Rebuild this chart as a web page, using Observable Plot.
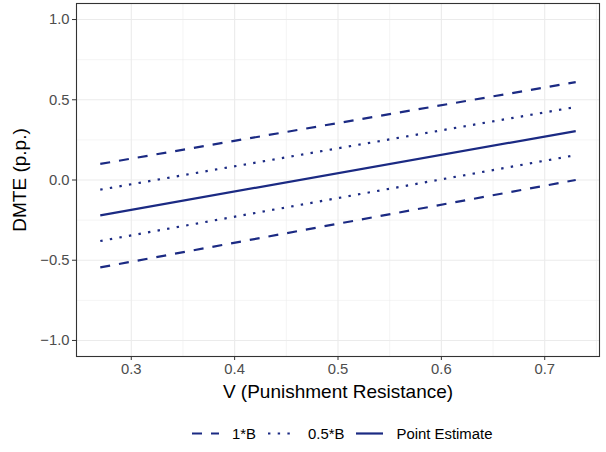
<!DOCTYPE html>
<html>
<head>
<meta charset="utf-8">
<script src="https://cdn.jsdelivr.net/npm/d3@7"></script>
<script src="https://cdn.jsdelivr.net/npm/@observablehq/plot@0.6"></script>
<style>
  html, body { margin: 0; padding: 0; background: #fff; }
  body { font-family: "Liberation Sans", Arial, Helvetica, sans-serif; }
  #wrap { position: relative; width: 606px; height: 452px; }
  #legend { position: absolute; left: 192px; top: 422px; display: flex; align-items: center; height: 24px; font-size: 14.9px; color: #000; }
  #legend svg { display: block; }
  #legend span { display: inline-block; }
</style>
</head>
<body>
<div id="wrap">
  <div id="chart"></div>
  <div id="legend"></div>
</div>
<script>
// Data
const xVals = [0.27, 0.73];
const pointEstimate = [-0.22, 0.305];
const upper1B = [0.10, 0.61];
const lower1B = [-0.545, 0.0];
const upperHalfB = [-0.06, 0.455];
const lowerHalfB = [-0.38, 0.155];

const xTicks = [0.3, 0.4, 0.5, 0.6, 0.7];
const xMinor = [0.35, 0.45, 0.55, 0.65, 0.75];
const yTicks = [-1.0, -0.5, 0.0, 0.5, 1.0];
const yMinor = [-0.75, -0.25, 0.25, 0.75];
const legendLabels = ["1*B", "0.5*B", "Point Estimate"];

const color = "#1B2A83";
const dashed = "10,9";
const dotted = "2.4,7.3";

const series = [
  {name: "1*B", key: "u1", vals: upper1B, dash: dashed},
  {name: "1*B", key: "l1", vals: lower1B, dash: dashed},
  {name: "0.5*B", key: "u05", vals: upperHalfB, dash: dotted},
  {name: "0.5*B", key: "l05", vals: lowerHalfB, dash: dotted},
  {name: "Point Estimate", key: "pe", vals: pointEstimate, dash: null}
];

const fmt = d => d < 0 ? "\u2212" + Math.abs(d).toFixed(1) : d.toFixed(1);

const marks = [
  Plot.ruleY(yMinor, {stroke: "#EBEBEB", strokeWidth: 0.55}),
  Plot.ruleX(xMinor, {stroke: "#EBEBEB", strokeWidth: 0.55}),
  Plot.ruleY(yTicks, {stroke: "#EBEBEB", strokeWidth: 1.1}),
  Plot.ruleX(xTicks, {stroke: "#EBEBEB", strokeWidth: 1.1}),
];
for (const s of series) {
  const rows = xVals.map((x, i) => ({x, y: s.vals[i]}));
  marks.push(Plot.line(rows, {x: "x", y: "y", stroke: color, strokeWidth: 2.2,
    strokeDasharray: s.dash || undefined, strokeLinecap: "butt"}));
}
marks.push(
  Plot.frame({stroke: "#333333", strokeWidth: 1.1}),
  Plot.axisX(xTicks, {tickFormat: d => d.toFixed(1), tickSize: 4, tickPadding: 3, fontSize: 14.8, color: "#4D4D4D", stroke: "#333333", label: null}),
  Plot.axisY(yTicks, {tickFormat: fmt, tickSize: 4, tickPadding: 3, fontSize: 14.8, color: "#4D4D4D", stroke: "#333333", label: null}),
  Plot.axisX([], {label: "V (Punishment Resistance)", labelArrow: "none", labelAnchor: "center", labelOffset: 41, fontSize: 19, color: "#000"}),
  Plot.axisY([], {label: "DMTE (p.p.)", labelArrow: "none", labelAnchor: "center", labelOffset: 64, fontSize: 19, color: "#000"})
);

const chart = Plot.plot({
  width: 606,
  height: 412,
  marginLeft: 76,
  marginRight: 7,
  marginTop: 3,
  marginBottom: 56,
  style: {fontFamily: '"Liberation Sans", Arial, Helvetica, sans-serif', background: "#fff", overflow: "visible"},
  x: {domain: [0.247, 0.753]},
  y: {domain: [-1.1, 1.1]},
  marks
});
// strip any axis-label arrows in case the option is not supported
chart.querySelectorAll("text, tspan").forEach(t => {
  if (t.childNodes.length === 1 && t.firstChild.nodeType === 3 && /[\u2190-\u2193]/.test(t.textContent)) {
    t.textContent = t.textContent.replace(/\s*[\u2190-\u2193]\s*/g, "").trim();
  }
});
document.getElementById("chart").appendChild(chart);

// Legend
const legend = document.getElementById("legend");
const dashes = [dashed, dotted, null];
legendLabels.forEach((lab, i) => {
  const ns = "http://www.w3.org/2000/svg";
  const svg = document.createElementNS(ns, "svg");
  svg.setAttribute("width", 27); svg.setAttribute("height", 24);
  const ln = document.createElementNS(ns, "line");
  ln.setAttribute("x1", 0); ln.setAttribute("x2", 27);
  ln.setAttribute("y1", 11.5); ln.setAttribute("y2", 11.5);
  ln.setAttribute("stroke", color); ln.setAttribute("stroke-width", 2.2);
  if (dashes[i]) ln.setAttribute("stroke-dasharray", dashes[i]);
  svg.appendChild(ln);
  legend.appendChild(svg);
  const sp = document.createElement("span");
  sp.textContent = lab;
  sp.style.marginLeft = "13px";
  sp.style.marginRight = i < legendLabels.length - 1 ? "12px" : "0";
  legend.appendChild(sp);
});
</script>
</body>
</html>
